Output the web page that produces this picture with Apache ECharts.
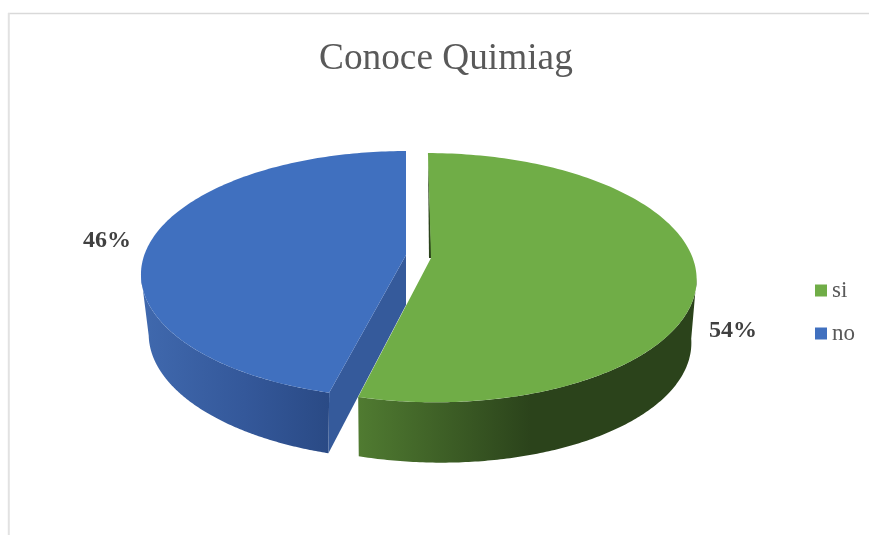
<!DOCTYPE html>
<html>
<head>
<meta charset="utf-8">
<style>html,body{margin:0;padding:0;background:#fff}#chart{width:869px;height:535px}</style>
<script src="https://cdn.jsdelivr.net/npm/echarts@6/dist/echarts.min.js"></script>
</head>
<body>
<div id="chart"></div>
<script>
// Survey answers, in percent
const categories = ['si', 'no'];
const values = [54, 46];
const chartTitle = 'Conoce Quimiag';
const total = values.reduce((a, b) => a + b, 0);

// Upper and lower disc planes of the tilted pie, as a simple perspective projection
const TOP = { ay: 0, a: 120.4, b: 261.7, k: 0.158 };
const BOTTOM = { ay: 50, a: 116, b: 250, k: 0.25 };

// Per-slice drawing setup: exploded centre, lean of each plane, shading
const sliceStyle = {
  si: {
    cx: 431, cy: 258, topLean: 0.029, bottomLean: 0.066, topStretch: 1.009,
    face: '#70ad47', cut: '#3a5a25',
    topArc: [0.275, 0.54], bottomArc: [0.29, 0.54],
    wallX: [358, 690],
    wallStops: [[0, '#507b31'], [0.52, '#2b431b'], [1, '#2b431b']],
    label: [733, 331]
  },
  no: {
    cx: 406, cy: 255, topLean: 0, bottomLean: 0.03, topStretch: 1,
    face: '#4070bf', cut: '#355a9b',
    topArc: [0.54, 0.725], bottomArc: [0.54, 0.71],
    wallX: [141, 329],
    wallStops: [[0, '#4069ae'], [0.55, '#34589a'], [1, '#2a4a85']],
    label: [107, 241]
  }
};

function rimPoint(s, plane, lean, f, stretch) {
  const u = Math.sin(2 * Math.PI * f);
  const v = -Math.cos(2 * Math.PI * f);
  const d = 1 - plane.k * v;
  const dy = plane.a * (stretch || 1) * v / d;
  return [s.cx + plane.b * u / d + lean * dy, s.cy + plane.ay + dy];
}

function arcPoints(s, plane, lean, f0, f1, stretch) {
  const n = 160;
  const pts = [];
  for (let i = 0; i <= n; i++) pts.push(rimPoint(s, plane, lean, f0 + (f1 - f0) * i / n, stretch));
  return pts;
}

function sliceRange(index) {
  let start = 0;
  for (let i = 0; i < index; i++) start += values[i] / total;
  return [start, start + values[index] / total];
}

function renderSlice(name) {
  const index = categories.indexOf(name);
  const s = sliceStyle[name];
  return function (params, api) {
    const [f0, f1] = sliceRange(index);
    const apex = [s.cx, s.cy];
    const apexLow = [s.cx, s.cy + BOTTOM.ay];
    const tip = index === 0 ? f1 : f0;
    const topTip = rimPoint(s, TOP, s.topLean, tip, s.topStretch);
    const lowTip = rimPoint(s, BOTTOM, s.bottomLean, tip);
    const children = [];

    // outer curved wall, closed along the silhouette lines of the disc
    children.push({
      type: 'polygon',
      shape: {
        points: arcPoints(s, TOP, s.topLean, s.topArc[0], s.topArc[1], s.topStretch)
          .concat(arcPoints(s, BOTTOM, s.bottomLean, s.bottomArc[0], s.bottomArc[1]).reverse())
      },
      style: {
        fill: new echarts.graphic.LinearGradient(s.wallX[0], 0, s.wallX[1], 0,
          s.wallStops.map(([offset, color]) => ({ offset, color })), true)
      }
    });

    if (index === 1) {
      // cut wall facing the gap
      children.push({
        type: 'polygon',
        shape: { points: [apex, topTip, lowTip, apexLow] },
        style: { fill: s.cut }
      });
    } else {
      // thin sliver of the far cut wall
      children.push({
        type: 'polygon',
        shape: { points: [rimPoint(s, TOP, s.topLean, f0, s.topStretch), [apex[0] + 0.5, apex[1]], [apex[0] - 2, apex[1]]] },
        style: { fill: '#2b431b' }
      });
    }

    // top face
    children.push({
      type: 'polygon',
      shape: { points: [apex].concat(arcPoints(s, TOP, s.topLean, f0, f1, s.topStretch)) },
      style: { fill: s.face }
    });

    // percentage label
    children.push({
      type: 'text',
      x: s.label[0],
      y: s.label[1],
      style: {
        text: Math.round(100 * api.value(0) / total) + '%',
        fill: '#404040',
        font: 'bold 24px "Liberation Serif"',
        textAlign: 'center',
        textVerticalAlign: 'middle'
      }
    });

    return { type: 'group', children };
  };
}

const chart = echarts.init(document.getElementById('chart'), null, { renderer: 'canvas' });
chart.setOption({
  animation: false,
  backgroundColor: '#ffffff',
  title: {
    text: chartTitle,
    left: 314,
    top: 36,
    textStyle: { fontFamily: 'Liberation Serif', fontSize: 37.3, fontWeight: 'normal', color: '#595959' }
  },
  legend: {
    data: categories,
    orient: 'vertical',
    left: 810,
    top: 274,
    itemWidth: 12,
    itemHeight: 12,
    itemGap: 20,
    icon: 'rect',
    textStyle: { fontFamily: 'Liberation Serif', fontSize: 23, color: '#595959' }
  },
  graphic: [
    { type: 'line', shape: { x1: 8, y1: 13.5, x2: 869, y2: 13.5 }, style: { stroke: '#d9d9d9', lineWidth: 1.5 }, silent: true },
    { type: 'line', shape: { x1: 8.8, y1: 13, x2: 8.8, y2: 535 }, style: { stroke: '#e2e2e2', lineWidth: 2 }, silent: true }
  ],
  series: ['no', 'si'].map(name => ({
    type: 'custom',
    name,
    coordinateSystem: 'none',
    silent: true,
    itemStyle: { color: sliceStyle[name].face },
    renderItem: renderSlice(name),
    data: [[values[categories.indexOf(name)]]]
  }))
});
</script>
</body>
</html>
